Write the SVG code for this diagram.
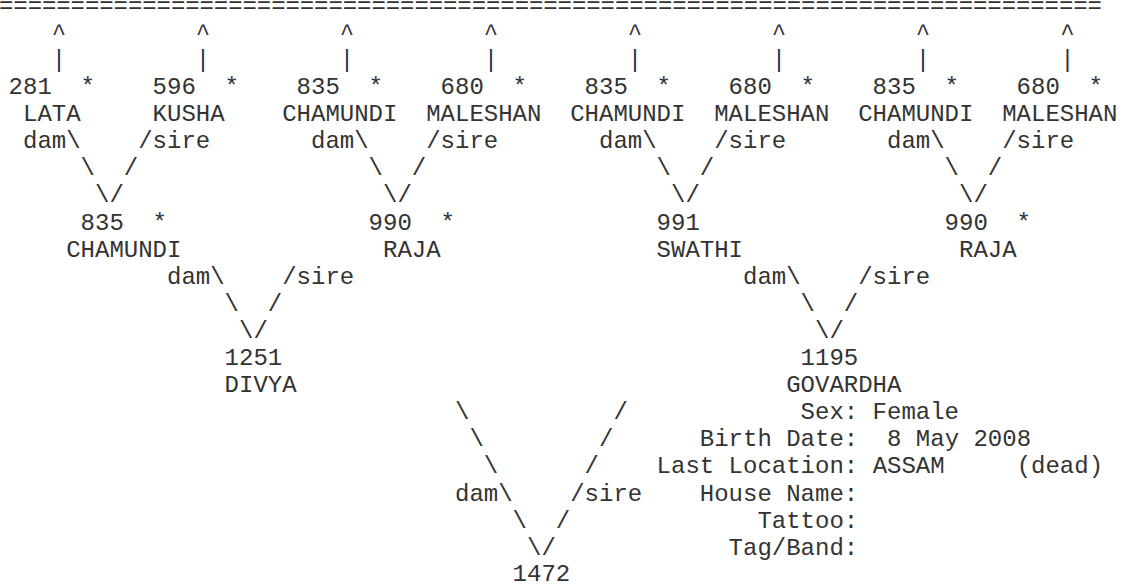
<svg xmlns="http://www.w3.org/2000/svg" width="1123" height="586" viewBox="0 0 1123 586">
<style>
text { font-family: "Liberation Mono", "Courier New", monospace; font-size: 24px; fill: #333; white-space: pre; }
</style>
<rect width="1123" height="586" fill="#fff"/>
<g id="connectors">
<text x="-1" y="12.7" textLength="1103" lengthAdjust="spacing">=============================================================================</text>
<text y="39.8"><tspan x="51.8">^</tspan><tspan x="195.8">^</tspan><tspan x="339.8">^</tspan><tspan x="483.8">^</tspan><tspan x="627.8">^</tspan><tspan x="771.8">^</tspan><tspan x="915.8">^</tspan><tspan x="1060.2">^</tspan></text>
<text y="66.9"><tspan x="51.8">|</tspan><tspan x="195.8">|</tspan><tspan x="339.8">|</tspan><tspan x="483.8">|</tspan><tspan x="627.8">|</tspan><tspan x="771.8">|</tspan><tspan x="915.8">|</tspan><tspan x="1060.2">|</tspan></text>
<text y="148.2"><tspan x="23">dam\</tspan><tspan x="138.2">/sire</tspan><tspan x="311">dam\</tspan><tspan x="426.2">/sire</tspan><tspan x="599">dam\</tspan><tspan x="714.2">/sire</tspan><tspan x="887">dam\</tspan><tspan x="1002.2">/sire</tspan></text>
<text y="175.3"><tspan x="80.6">\</tspan><tspan x="123.8">/</tspan><tspan x="368.6">\</tspan><tspan x="411.8">/</tspan><tspan x="656.6">\</tspan><tspan x="699.8">/</tspan><tspan x="944.6">\</tspan><tspan x="987.8">/</tspan></text>
<text y="202.4"><tspan x="95">\/</tspan><tspan x="383">\/</tspan><tspan x="671">\/</tspan><tspan x="959">\/</tspan></text>
<text y="283.7"><tspan x="167">dam\</tspan><tspan x="282.2">/sire</tspan><tspan x="743">dam\</tspan><tspan x="858.2">/sire</tspan></text>
<text y="310.8"><tspan x="224.6">\</tspan><tspan x="267.8">/</tspan><tspan x="800.6">\</tspan><tspan x="843.8">/</tspan></text>
<text y="337.9"><tspan x="239">\/</tspan><tspan x="815">\/</tspan></text>
<text y="419.2"><tspan x="455">\</tspan><tspan x="613.4">/</tspan></text>
<text y="446.3"><tspan x="469.4">\</tspan><tspan x="599">/</tspan></text>
<text y="473.4"><tspan x="483.8">\</tspan><tspan x="584.6">/</tspan></text>
<text y="500.5"><tspan x="455">dam\</tspan><tspan x="570.2">/sire</tspan></text>
<text y="527.6"><tspan x="512.6">\</tspan><tspan x="555.8">/</tspan></text>
<text y="554.7"><tspan x="527">\/</tspan></text>
</g>
<g id="n281"><text x="8.6" y="94">281</text><text x="80.6" y="94">*</text><text x="23" y="121.1">LATA</text></g>
<g id="n596"><text x="152.6" y="94">596</text><text x="224.6" y="94">*</text><text x="152.6" y="121.1">KUSHA</text></g>
<g id="n835a"><text x="296.6" y="94">835</text><text x="368.6" y="94">*</text><text x="282.2" y="121.1">CHAMUNDI</text></g>
<g id="n680a"><text x="440.6" y="94">680</text><text x="512.6" y="94">*</text><text x="426.2" y="121.1">MALESHAN</text></g>
<g id="n835b"><text x="584.6" y="94">835</text><text x="656.6" y="94">*</text><text x="570.2" y="121.1">CHAMUNDI</text></g>
<g id="n680b"><text x="728.6" y="94">680</text><text x="800.6" y="94">*</text><text x="714.2" y="121.1">MALESHAN</text></g>
<g id="n835c"><text x="872.6" y="94">835</text><text x="944.6" y="94">*</text><text x="858.2" y="121.1">CHAMUNDI</text></g>
<g id="n680c"><text x="1016.6" y="94">680</text><text x="1088.6" y="94">*</text><text x="1002.2" y="121.1">MALESHAN</text></g>
<g id="n835"><text x="80.6" y="229.5">835</text><text x="152.6" y="229.5">*</text><text x="66.2" y="256.6">CHAMUNDI</text></g>
<g id="n990a"><text x="368.6" y="229.5">990</text><text x="440.6" y="229.5">*</text><text x="383" y="256.6">RAJA</text></g>
<g id="n991"><text x="656.6" y="229.5">991</text><text x="656.6" y="256.6">SWATHI</text></g>
<g id="n990b"><text x="944.6" y="229.5">990</text><text x="1016.6" y="229.5">*</text><text x="959" y="256.6">RAJA</text></g>
<g id="n1251"><text x="224.6" y="365">1251</text><text x="224.6" y="392.1">DIVYA</text></g>
<g id="n1195"><text x="800.6" y="365">1195</text><text x="786.2" y="392.1">GOVARDHA</text>
<text x="800.6" y="419.2">Sex: Female</text>
<text x="699.8" y="446.3">Birth Date:  8 May 2008</text>
<text x="656.6" y="473.4">Last Location: ASSAM     (dead)</text>
<text x="699.8" y="500.5">House Name:</text>
<text x="757.4" y="527.6">Tattoo:</text>
<text x="728.6" y="554.7">Tag/Band:</text></g>
<g id="n1472"><text x="512.6" y="580.5">1472</text></g>
</svg>
